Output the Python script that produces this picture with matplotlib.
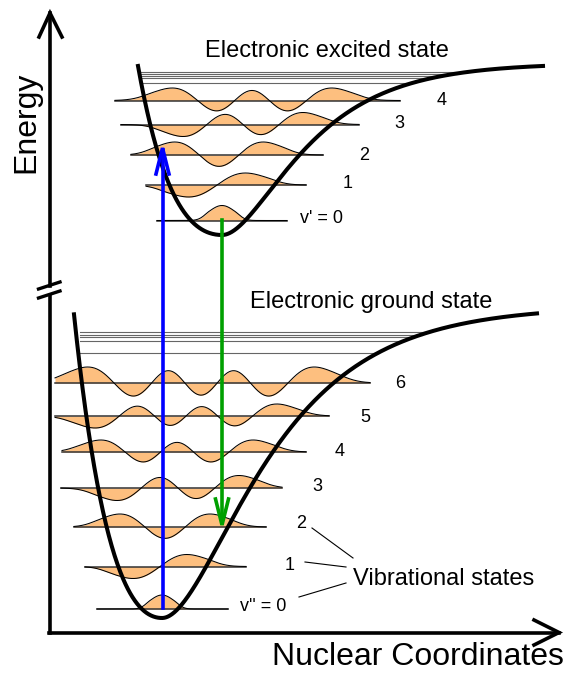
import numpy as np
import matplotlib.pyplot as plt
from numpy.polynomial.hermite import hermval

plt.rcParams['font.family'] = ['Liberation Sans', 'DejaVu Sans']

# potential curves (pixel space): minimum x/y, depth, left/right steepness, drawn x range
exc_min = (222, 235)
exc_depth = 172
exc_steep = (0.0082, 0.0148)
exc_xrange = (138, 543)

gnd_min = (162, 618)
gnd_depth = 312
gnd_steep = (0.0078, 0.0118)
gnd_xrange = (74, 537)

# vibrational levels of the excited state
exc_y = [220.5, 185, 155, 124.5, 100.5]
exc_x0 = [157, 146, 131, 121, 115]
exc_x1 = [287, 306, 323, 359, 400]
exc_c = [222, 217, 219, 243, 252]
exc_s = [13, 28.5, 28, 29.5, 33]
exc_amp = [15, 12, 13, 12, 12.5]
exc_labels = ["v' = 0", "1", "2", "3", "4"]
exc_lab_x = [300, 348, 364, 399, 442]
exc_lab_y = [223, 188, 160, 128, 105]

# vibrational levels of the ground state
gnd_y = [609, 566.5, 527, 488, 452, 416, 383]
gnd_x0 = [97, 85, 74, 61, 62, 55, 55]
gnd_x1 = [228, 246, 266, 282, 306, 329, 370]
gnd_c = [162, 160, 165, 178, 177, 186, 201]
gnd_s = [12, 27, 28.5, 30, 31.5, 33, 37]
gnd_amp = [14, 12, 13, 12.5, 12, 12, 16]
gnd_labels = ["v'' = 0", "1", "2", "3", "4", "5", "6"]
gnd_lab_x = [240, 290, 301, 317, 340, 365, 400]
gnd_lab_y = [611, 570, 528, 491, 456, 422, 388]

# thin lines near the dissociation limit
exc_cont_y = [71.5, 73.5, 75.7, 77.7, 83.3]
exc_cont_x = (141, 468)
gnd_cont_y = [332, 334.5, 337, 341, 353]
gnd_cont_x = (80, 427)

# transitions: x, from y, to y
absorb = (162.5, 608, 148)
emit = (222, 220, 525)

orange = '#fdbf7f'


def morse(x, xmin, ymin, depth, steep):
    d = x - xmin
    a = np.where(d < 0, steep[0], steep[1])
    return ymin - depth * (1 - np.exp(-a * d))**2


def wave(v, x, c, s):
    xi = (x - c) / s
    coef = np.zeros(v + 1)
    coef[v] = 1
    psi = hermval(xi, coef) * np.exp(-xi**2 / 2)
    # tails fade a bit faster than a true oscillator
    xt = np.sqrt(2 * v + 1)
    psi = psi * np.exp(-np.clip(np.abs(xi) - xt, 0, None)**2)
    return psi / np.abs(psi).max()


fig = plt.figure(figsize=(5.72, 6.73), dpi=100)
ax = fig.add_axes([0, 0, 1, 1])
ax.set_xlim(0, 572)
ax.set_ylim(673, 0)
ax.axis('off')

# levels with wavefunctions
for ys, x0s, x1s, cs, ss, amps in [(exc_y, exc_x0, exc_x1, exc_c, exc_s, exc_amp),
                                   (gnd_y, gnd_x0, gnd_x1, gnd_c, gnd_s, gnd_amp)]:
    for v in range(len(ys)):
        x = np.linspace(x0s[v], x1s[v], 400)
        yw = ys[v] - amps[v] * wave(v, x, cs[v], ss[v])
        ax.fill_between(x, ys[v], yw, color=orange, lw=0)
        ax.plot([x0s[v], x1s[v]], [ys[v], ys[v]], color='#333333', lw=1.1)
        ax.plot(x, yw, color='k', lw=0.75)

# potential curves + continuum lines
for pmin, depth, steep, xr, cont_y, cont_x in [
        (exc_min, exc_depth, exc_steep, exc_xrange, exc_cont_y, exc_cont_x),
        (gnd_min, gnd_depth, gnd_steep, gnd_xrange, gnd_cont_y, gnd_cont_x)]:
    x = np.linspace(xr[0], xr[1], 800)
    y = morse(x, pmin[0], pmin[1], depth, steep)
    for yc in cont_y:
        right = x[(x > pmin[0]) & (y <= yc)]
        xe = min(cont_x[1], right[0]) if len(right) else cont_x[1]
        ax.plot([cont_x[0], xe], [yc, yc], color='#666666', lw=0.8)
    ax.plot(x, y, color='k', lw=2.9)

# transitions
for (xa, ya, yb), col in [(absorb, '#0000ff'), (emit, '#00a000')]:
    sgn = 1 if yb < ya else -1
    ax.plot([xa, xa], [ya, yb + sgn * 2], color=col, lw=2.6)
    ax.plot([xa - 6.5, xa, xa + 6.5], [yb + sgn * 26, yb, yb + sgn * 26],
            color=col, lw=2.6, solid_joinstyle='miter')

# axes
ax.plot([50, 50], [633, 296], color='k', lw=2.6)
ax.plot([50, 50], [286, 13], color='k', lw=2.6)
ax.plot([39, 50, 62], [37, 13, 37], color='k', lw=2.6, solid_joinstyle='miter')
ax.plot([38.5, 60], [289, 282], color='k', lw=2.4)
ax.plot([38.5, 60], [298, 291], color='k', lw=2.4)
ax.plot([48.7, 559], [632.5, 632.5], color='k', lw=2.6)
ax.plot([534, 559, 534], [620, 632.5, 645], color='k', lw=2.6, solid_joinstyle='miter')

ax.text(26.5, 122, 'Energy', fontsize=23, rotation=90, ha='center', va='center')
ax.text(418, 665, 'Nuclear Coordinates', fontsize=23, ha='center', va='baseline')
ax.text(326.5, 57, 'Electronic excited state', fontsize=17, ha='center', va='baseline')
ax.text(371.5, 308, 'Electronic ground state', fontsize=17, ha='center', va='baseline')
ax.text(444, 585, 'Vibrational states', fontsize=17, ha='center', va='baseline')

for labs, lx, ly in [(exc_labels, exc_lab_x, exc_lab_y), (gnd_labels, gnd_lab_x, gnd_lab_y)]:
    for i, t in enumerate(labs):
        ha = 'left' if i == 0 else 'center'
        ax.text(lx[i], ly[i], t, fontsize=13, ha=ha, va='baseline')

# leader lines to "Vibrational states"
ax.plot([312, 353], [528, 558], color='k', lw=0.8)
ax.plot([305, 346], [562, 567], color='k', lw=0.8)
ax.plot([299, 346], [597, 583], color='k', lw=0.8)

fig.savefig('out.png', dpi=100)
